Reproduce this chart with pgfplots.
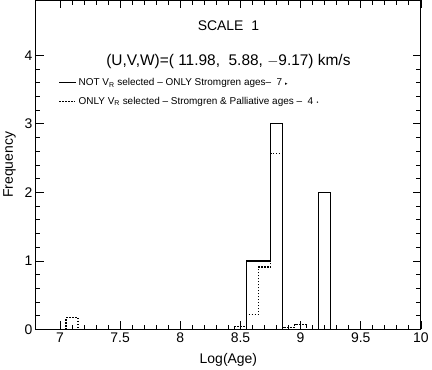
\documentclass[border=0pt]{standalone}
\usepackage{fontspec}
\setmainfont{Liberation Sans}
\newfontfamily\dejavu{DejaVu Sans}
\usepackage{pgfplots}
\pgfplotsset{compat=1.18}

\begin{document}
\begin{tikzpicture}
\begin{axis}[
    scale only axis,
    width=385bp, height=329bp,
    xmin=6.8, xmax=10, ymin=0, ymax=4.8,
    xtick={7,7.5,8,8.5,9,9.5,10},
    xticklabels={7,7.5,8,8.5,9,9.5,10},
    ytick={0,1,2,3,4},
    minor x tick num=4,
    minor y tick num=4,
    tick align=inside,
    major tick length=8bp,
    minor tick length=4.5bp,
    axis line style={line width=0.9pt},
    every tick/.style={line width=0.8pt, black},
    /pgf/number format/assume math mode=true,
    ticklabel style={font=\fontsize{14}{14}\selectfont},
    xlabel={Log(Age)},
    ylabel={Frequency},
    label style={font=\fontsize{14}{14}\selectfont},
    xlabel style={yshift=-4bp},
    ylabel style={yshift=2bp},
    legend style={draw=none, fill=none, at={(rel axis cs:0.058,0.77)}, anchor=north west,
        font=\fontsize{10}{10}\selectfont, row sep=6bp,
        inner sep=0pt, cells={anchor=west}},
    legend cell align=left,
    clip=true,
]
\addplot[const plot, black, line width=1.2pt] coordinates {
    (8.45,0) (8.55,1) (8.65,1) (8.75,3) (8.85,0) (9.15,2) (9.25,0)
};
\addlegendentry{NOT V$_\mathrm{R}$ selected -- ONLY Stromgren ages-- \ 7 {\dejavu\tiny ▸}}
\addplot[const plot, black, line width=1.2pt, dash pattern=on 1.5pt off 1.5pt] coordinates {
    (6.95,0) (7.05,0.17) (7.15,0) (8.45,0.04) (8.55,0.22) (8.65,0.91)
    (8.75,2.57) (8.85,0.03) (8.95,0.07) (9.05,0)
};
\addlegendentry{ONLY V$_\mathrm{R}$ selected -- Stromgren \& Palliative ages -- \ 4 {\dejavu\tiny •}}
\node[font=\fontsize{14}{14}\selectfont] at (rel axis cs:0.5,0.924) {SCALE\ \ 1};
\node[font=\fontsize{15.5}{15.5}\selectfont] at (rel axis cs:0.5,0.815) {(U,V,W)=(\ 11.98,\ \ 5.88, $-$9.17) km/s};
\end{axis}
\end{tikzpicture}
\end{document}
